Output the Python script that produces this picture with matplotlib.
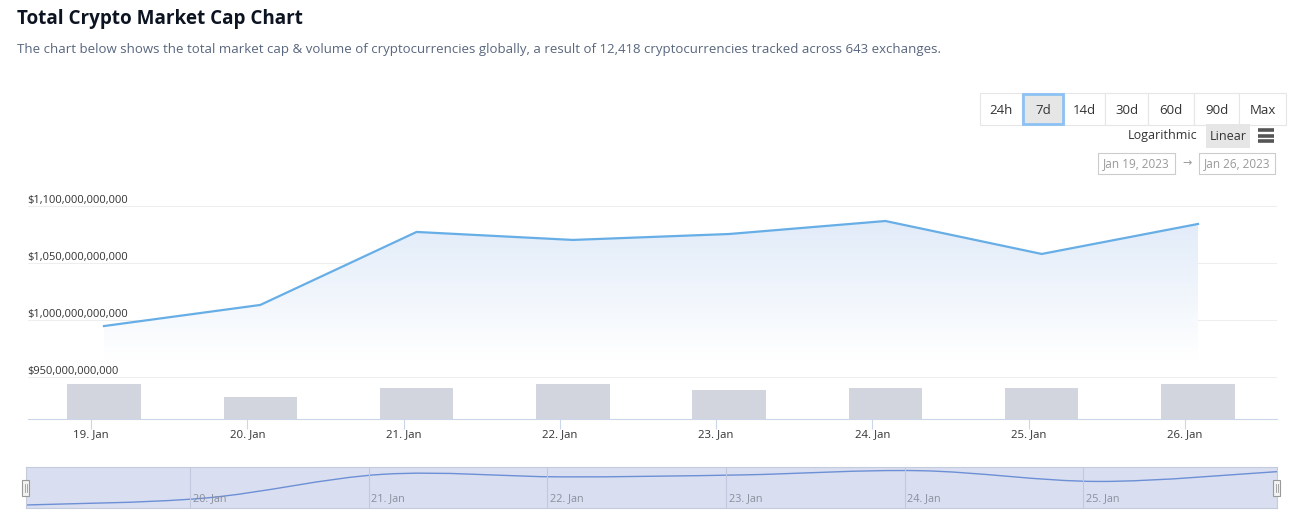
import matplotlib
matplotlib.use('Agg')
import matplotlib.pyplot as plt
import matplotlib.dates as mdates
import matplotlib.transforms as mtransforms
from matplotlib.patches import Rectangle, PathPatch
from matplotlib.path import Path
from matplotlib.colors import LinearSegmentedColormap
import numpy as np
import pandas as pd

plt.rcParams['font.family'] = ['Open Sans', 'DejaVu Sans']

W, H = 1294, 518

# --- data ---
sample_times = pd.to_datetime(['2023-01-19 02:00', '2023-01-20 02:00', '2023-01-21 02:00',
                               '2023-01-22 02:00', '2023-01-23 02:00', '2023-01-24 02:00',
                               '2023-01-25 02:00', '2023-01-26 02:00'])
market_cap_bn = [994.7, 1013.2, 1077.2, 1070.2, 1075.4, 1086.8, 1057.9, 1084.2]
volume_bn = [70, 44, 62, 70, 58, 62, 62, 70]   # no scale shown, relative heights only
price_ticks_bn = [950, 1000, 1050, 1100]
day_ticks = pd.date_range('2023-01-19', '2023-01-26', freq='D')
range_buttons = ['24h', '7d', '14d', '30d', '60d', '90d', 'Max']
selected_range = '7d'
date_from = 'Jan 19, 2023'
date_to = 'Jan 26, 2023'
title = 'Total Crypto Market Cap Chart'
subtitle = ('The chart below shows the total market cap & volume of cryptocurrencies globally, '
            'a result of 12,418 cryptocurrencies tracked across 643 exchanges.')

x = mdates.date2num(sample_times)
xd = mdates.date2num(day_ticks)

fig = plt.figure(figsize=(W / 100, H / 100), dpi=100)

def box(l, t, r, b):
    # pixel box -> figure fraction rect
    return [l / W, 1 - b / H, (r - l) / W, (b - t) / H]

# UI layer in pixel coordinates
ui = fig.add_axes([0, 0, 1, 1], zorder=0)
ui.set_xlim(0, W)
ui.set_ylim(H, 0)
ui.axis('off')

ui.text(17, 19, title, fontsize=13.6, fontweight='bold', color='#0d1421', va='center')
ui.text(17, 50, subtitle, fontsize=9.5, color='#58667e', va='center')

btn_edges = [980, 1022, 1064, 1105, 1148, 1194, 1239, 1286]
for i, name in enumerate(range_buttons):
    l, r = btn_edges[i], btn_edges[i + 1]
    ui.add_patch(Rectangle((l, 93), r - l, 32, facecolor='white', edgecolor='#e6e6e6', lw=0.8))
for i, name in enumerate(range_buttons):
    l, r = btn_edges[i], btn_edges[i + 1]
    if name == selected_range:
        ui.add_patch(Rectangle((l + 1, 94), r - l - 2, 30, facecolor='#e6e6e6',
                               edgecolor='#8ec1f3', lw=2))
    ui.text((l + r) / 2, 110, name, fontsize=9.5, color='#333333', ha='center', va='center')

ui.text(1197, 136, 'Logarithmic', fontsize=9, color='#333333', ha='right', va='center')
ui.add_patch(Rectangle((1206, 124), 44, 24, facecolor='#e6e6e6', edgecolor='none'))
ui.text(1228, 136, 'Linear', fontsize=9, color='#333333', ha='center', va='center')
for yy in (130, 135.5, 141):
    ui.plot([1258, 1274], [yy, yy], color='#555555', lw=2.6, solid_capstyle='butt')

ui.add_patch(Rectangle((1098, 153), 77, 21, facecolor='white', edgecolor='#cccccc', lw=0.8))
ui.text(1136.5, 164, date_from, fontsize=8.5, color='#999999', ha='center', va='center')
ui.text(1187, 164, '\u2192', fontsize=8, color='#999999', ha='center', va='center')
ui.add_patch(Rectangle((1199, 153), 76, 21, facecolor='white', edgecolor='#cccccc', lw=0.8))
ui.text(1237, 164, date_to, fontsize=8.5, color='#999999', ha='center', va='center')

# --- main price chart ---
ax = fig.add_axes(box(28, 195, 1277, 419), zorder=2)
ax.set_facecolor('none')
xlim = (xd[0] - 0.403, xd[-1] + 0.589)
ylim = (913.2, 1109.6)

for v in price_ticks_bn:
    ax.axhline(v, color='#eeeeee', lw=0.8, zorder=0)
    ax.annotate(f'${v * 1e9:,.0f}', xy=(0, v),
                xycoords=mtransforms.blended_transform_factory(ax.transAxes, ax.transData),
                xytext=(-0.8, 2), textcoords='offset points',
                fontsize=8.0, color='#333333', ha='left', va='baseline')

fill = ax.fill_between(x, market_cap_bn, 965, facecolor='none', edgecolor='none')
grad = np.linspace(0, 1, 256).reshape(-1, 1)
cmap = LinearSegmentedColormap.from_list('area', ['#ffffff', '#dfeaf8'])
im = ax.imshow(grad, cmap=cmap, aspect='auto', origin='lower',
               extent=[x[0], x[-1], 965, 1095], zorder=1, interpolation='bilinear')
im.set_clip_path(fill.get_paths()[0], transform=ax.transData)
ax.plot(x, market_cap_bn, color='#67aee6', lw=1.6, zorder=3)

ax.set_xlim(*xlim)
ax.set_ylim(*ylim)
ax.set_yticks([])
for s in ('top', 'left', 'right'):
    ax.spines[s].set_visible(False)
ax.spines['bottom'].set_color('#ccd6eb')
ax.set_xticks(xd)
ax.xaxis.set_major_formatter(mdates.DateFormatter('%d. %b'))
ax.tick_params(axis='x', length=7, color='#ccd6eb', labelcolor='#333333',
               labelsize=8.2, pad=0.5)

# volume bars on a twin axis
axv = ax.twinx()
axv.bar(x, volume_bn, width=0.47, color='#d3d5de', zorder=1)
axv.set_ylim(0, 448)
axv.set_xlim(*xlim)
axv.axis('off')

# --- navigator ---
nav = fig.add_axes(box(26, 467, 1277, 508), zorder=2)
nav.set_facecolor('#d9dff0')
for s in nav.spines.values():
    s.set_color('#c4cbdd')
    s.set_linewidth(0.8)
nav.set_xlim(x[0], x[-1])
nav.set_ylim(986.6, 1096.7)
nav.set_xticks([])
nav.set_yticks([])

# smooth curve through the points (Catmull-Rom as cubic Bezier segments)
pts = np.column_stack([x, market_cap_bn])
ext = np.vstack([pts[0], pts, pts[-1]])
verts = [tuple(pts[0])]
codes = [Path.MOVETO]
for i in range(len(pts) - 1):
    p0, p1, p2, p3 = ext[i], ext[i + 1], ext[i + 2], ext[i + 3]
    c1 = p1 + (p2 - p0) / 6
    c2 = p2 - (p3 - p1) / 6
    verts += [tuple(c1), tuple(c2), tuple(p2)]
    codes += [Path.CURVE4] * 3
nav.add_patch(PathPatch(Path(verts, codes), facecolor='none', edgecolor='#6d8fd6', lw=1))

for d in xd[1:-1]:
    nav.axvline(d, color='#c2c9de', lw=0.8)
    nav.annotate(pd.Timestamp(mdates.num2date(d)).strftime('%d. %b'), xy=(d, 0.22),
                 xycoords=mtransforms.blended_transform_factory(nav.transData, nav.transAxes),
                 xytext=(2, 0), textcoords='offset points',
                 fontsize=7.8, color='#8a8f9c', ha='left', va='center')

# range handles
hand = fig.add_axes([0, 0, 1, 1], zorder=3)
hand.set_xlim(0, W)
hand.set_ylim(H, 0)
hand.axis('off')
for hx in (22, 1273):
    hand.add_patch(Rectangle((hx, 480), 7, 16, facecolor='#f2f2f2', edgecolor='#999999', lw=0.8))
    for dx in (2.5, 4.5):
        hand.plot([hx + dx, hx + dx], [484, 492], color='#999999', lw=0.6)

fig.savefig('out.png', dpi=100, facecolor='white')
